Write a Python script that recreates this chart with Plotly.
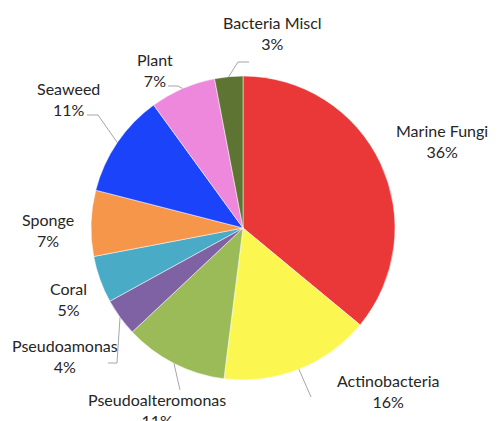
import math
import plotly.graph_objects as go

categories = ["Marine Fungi", "Actinobacteria", "Pseudoalteromonas", "Pseudoamonas",
              "Coral", "Sponge", "Seaweed", "Plant", "Bacteria Miscl"]
percentages = [36, 16, 11, 4, 5, 7, 11, 7, 3]
colors = ["#EA3838", "#FBF650", "#9BBB59", "#7F62A3", "#4AABC6",
          "#F6964A", "#1B44FA", "#EE88DC", "#5E7433"]

W, H = 497, 421
CX, CY, R = 243, 228, 152

# label layout (pixel positions of label centres) and leader elbows
label_pos = {
    "Marine Fungi": (442, 141),
    "Actinobacteria": (388, 391),
    "Pseudoalteromonas": (157, 410),
    "Pseudoamonas": (65, 356),
    "Coral": (68, 299),
    "Sponge": (48, 230),
    "Seaweed": (68, 99),
    "Plant": (155, 70),
    "Bacteria Miscl": (272, 33),
}
leader_path = {
    "Bacteria Miscl": [(238, 62), (249, 62)],
    "Plant": [(178, 86), (168, 86)],
    "Seaweed": [(98, 115), (87, 115)],
    "Pseudoamonas": [(117, 363), (108, 363)],
    "Pseudoalteromonas": [(180, 390)],
    "Actinobacteria": [(311, 397)],
}


def px(x):
    return x / W


def py(y):
    return 1 - y / H


fig = go.Figure(go.Pie(
    labels=categories,
    values=percentages,
    marker=dict(colors=colors, line=dict(color="white", width=0.5)),
    sort=False,
    direction="clockwise",
    rotation=0,
    textinfo="none",
    hoverinfo="label+percent",
    showlegend=False,
    domain=dict(x=[px(CX - R), px(CX + R)], y=[py(CY + R), py(CY - R)]),
))

total = sum(percentages)
annotations = []
shapes = []
cum = 0
for name, v in zip(categories, percentages):
    mid = (cum + v / 2) / total * 2 * math.pi
    cum += v
    lx, ly = label_pos[name]
    annotations.append(dict(
        x=px(lx), y=py(ly), xref="paper", yref="paper",
        text=f"{name}<br>{round(v / total * 100)}%",
        showarrow=False, xanchor="center", yanchor="middle",
        font=dict(family="Lato", size=16, color="#262626"),
    ))
    if name in leader_path:
        sx = CX + R * math.sin(mid)
        sy = CY - R * math.cos(mid)
        pts = [(sx, sy)] + leader_path[name]
        path = "M " + " L ".join(f"{px(a)},{py(b)}" for a, b in pts)
        shapes.append(dict(type="path", path=path, xref="paper", yref="paper",
                           line=dict(color="#A6A6A6", width=1)))

fig.update_layout(
    width=W, height=H, autosize=False,
    margin=dict(l=0, r=0, t=0, b=0),
    paper_bgcolor="white", plot_bgcolor="white",
    annotations=annotations, shapes=shapes,
)

fig.write_html("out.html",
               config={"displayModeBar": False},
               post_script="document.body.style.margin='0';document.body.style.overflow='hidden';")
